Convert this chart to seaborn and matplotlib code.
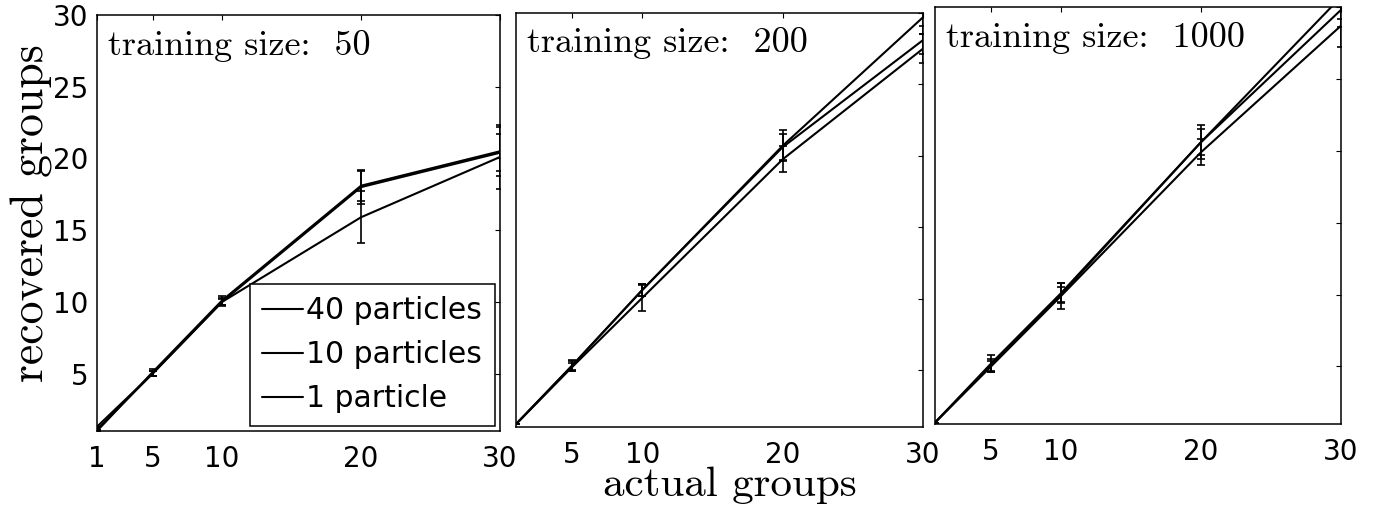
import numpy as np
import pandas as pd
import matplotlib
matplotlib.use("Agg")
import matplotlib.pyplot as plt
from matplotlib.lines import Line2D
import seaborn as sns

# ---------------- data ----------------
actual = [1, 5, 10, 20, 30]
series_names = ["40 particles", "10 particles", "1 particle"]
training_sizes = [50, 200, 1000]

# training size 50
ts50_p40 = [1.0, 5.1, 10.1, 18.1, 20.5]
ts50_p10 = [1.1, 5.0, 10.0, 18.0, 20.4]
ts50_p1 = [1.3, 5.0, 10.0, 15.9, 20.1]
ts50_e40 = [0.0, 0.25, 0.3, 1.05, 1.7]
ts50_e10 = [0.0, 0.2, 0.3, 1.2, 1.3]
ts50_e1 = [0.0, 0.2, 0.2, 1.8, 2.2]

# training size 200
ts200_p40 = [1.2, 5.3, 10.6, 20.7, 29.7]
ts200_p10 = [1.2, 5.3, 10.6, 20.6, 28.1]
ts200_p1 = [1.2, 5.2, 10.05, 19.75, 27.5]
ts200_e40 = [0.0, 0.4, 0.45, 1.1, 1.2]
ts200_e10 = [0.0, 0.3, 0.4, 0.9, 1.0]
ts200_e1 = [0.0, 0.3, 0.9, 0.9, 1.0]

# training size 1000
ts1000_p40 = [1.1, 5.2, 10.1, 20.6, 30.7]
ts1000_p10 = [1.1, 5.1, 10.0, 20.6, 29.8]
ts1000_p1 = [1.1, 5.0, 9.9, 19.9, 28.7]
ts1000_e40 = [0.0, 0.6, 0.7, 1.2, 1.5]
ts1000_e10 = [0.0, 0.4, 0.5, 0.9, 1.2]
ts1000_e1 = [0.0, 0.4, 0.9, 0.9, 1.5]

yticks = [5, 10, 15, 20, 25, 30]
xticks_first = [1, 5, 10, 20, 30]
xticks_other = [5, 10, 20, 30]

panels = [
    (ts50_p40, ts50_p10, ts50_p1, ts50_e40, ts50_e10, ts50_e1),
    (ts200_p40, ts200_p10, ts200_p1, ts200_e40, ts200_e10, ts200_e1),
    (ts1000_p40, ts1000_p10, ts1000_p1, ts1000_e40, ts1000_e10, ts1000_e1),
]

# ---------------- style ----------------
sns.set_theme(style="white")
plt.rcParams["font.family"] = ["DejaVu Sans"]
plt.rcParams["axes.unicode_minus"] = False

W, H = 1379, 508
fig = plt.figure(figsize=(W / 100, H / 100), dpi=100)
fig.patch.set_facecolor("white")

# axes boxes in pixels: left, right, top, bottom
boxes = [(97, 500, 15, 431), (516, 923, 13, 427), (935, 1341, 7, 424)]

serif = "cmr10"
lw = 1.5

for i, (box, vals, ts) in enumerate(zip(boxes, panels, training_sizes)):
    l, r, t, b = box
    ax = fig.add_axes([l / W, 1 - b / H, (r - l) / W, (b - t) / H])
    ax.set_facecolor("white")
    means = vals[:3]
    errs = vals[3:]
    df = pd.DataFrame({
        "actual": np.tile(actual, 3),
        "recovered": np.concatenate(means),
        "series": np.repeat(series_names, len(actual)),
    })
    sns.lineplot(data=df, x="actual", y="recovered", hue="series",
                 hue_order=series_names, palette=["black"] * 3,
                 linewidth=lw, legend=False, ax=ax)
    for m, e in zip(means, errs):
        ax.errorbar(actual, m, yerr=e, fmt="none", ecolor="black",
                    elinewidth=1.2, capsize=3, capthick=1.2)
    ax.set_xlim(1, 30)
    ax.set_ylim(1, 30)
    ax.set_xticks(xticks_first if i == 0 else xticks_other)
    ax.set_yticks(yticks)
    ax.tick_params(direction="in", top=True, right=True, length=3.6,
                   width=0.8, colors="black", labelsize=20)
    ax.tick_params(axis="x", pad=10)
    ax.tick_params(axis="y", pad=6)
    if i > 0:
        ax.set_yticklabels([])
    ax.set_xlabel("")
    ax.set_ylabel("")
    for sp in ax.spines.values():
        sp.set_visible(True)
        sp.set_color("black")
        sp.set_linewidth(1.1)
    ax.text(0.028, 0.905, f"training size:  {ts}", transform=ax.transAxes,
            family=serif, fontsize=26, ha="left", va="baseline", color="black")
    if i == 0:
        handles = [Line2D([], [], color="black", lw=lw) for _ in series_names]
        leg = ax.legend(handles, series_names, loc="lower right",
                        frameon=True, fancybox=False, framealpha=1,
                        edgecolor="black", borderaxespad=0.18,
                        handlelength=1.35, handletextpad=0.12,
                        labelspacing=0.5, borderpad=0.42,
                        prop={"family": ["DejaVu Sans"], "size": 21.5})
        leg.get_frame().set_linewidth(1.1)
        for txt in leg.get_texts():
            txt.set_color("black")

fig.text(730 / W, 12 / H, "actual groups", family=serif,
         fontsize=31, ha="center", va="baseline", color="black")
fig.text(32 / W, 1 - 213 / H, "recovered groups", family=serif, fontsize=33,
         rotation=90, ha="center", va="center", color="black")

fig.savefig("out.png", dpi=100, facecolor="white")
